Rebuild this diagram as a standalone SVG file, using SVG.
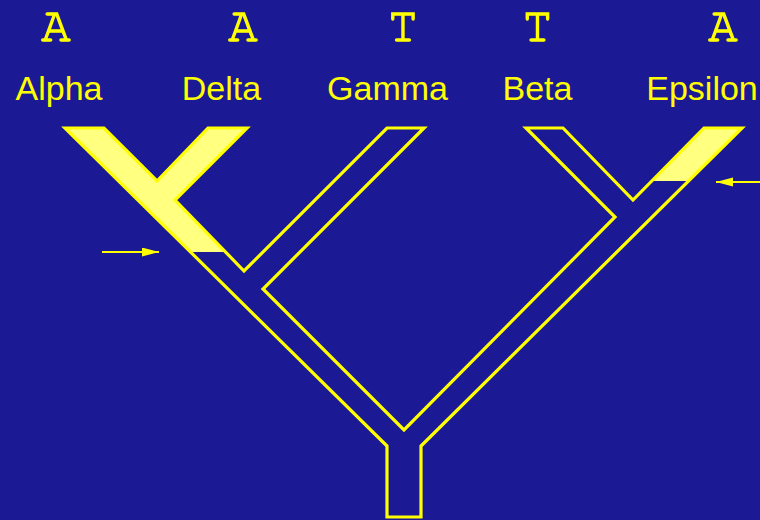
<svg xmlns="http://www.w3.org/2000/svg" width="760" height="520" viewBox="0 0 760 520">
<defs>
<style>
.bg{fill:#1b1a94}
.tree{fill:none;stroke:#ffff00;stroke-width:3.2;stroke-linejoin:miter}
.hl{fill:#ffff80;stroke:none}
.base{font-family:FreeMono,"Liberation Mono","Courier New",monospace;font-size:49px;fill:#ffff00;stroke:#ffff00;stroke-width:1.3;text-anchor:middle}
.name{font-family:"Liberation Sans",Arial,sans-serif;font-size:34px;fill:#ffff00;text-anchor:middle}
.arrow{stroke:#ffff00;stroke-width:2;fill:none}
</style>
<marker id="ah" markerUnits="userSpaceOnUse" markerWidth="18" markerHeight="10" refX="17" refY="4.5" orient="auto">
<path d="M0,0 L17,4.5 L0,9 z" fill="#ffff00"/>
</marker>
</defs>
<rect class="bg" x="0" y="0" width="760" height="520"/>
<g id="tree">
<polygon class="hl" points="65,128 104,128 157,181 208,128 247,128 175,200 227,252 190,252"/>
<polygon class="hl" points="704,128 742,128 689,181 653,181"/>
<polygon class="tree" points="65,128 104,128 157,181 208,128 247,128 175,200 244,271 387,128 424,128 263,289 404,430 615,217 526,128 563,128 633,200 704,128 742,128 421,446 421,517 387,517 387,446"/>
</g>
<g id="alpha">
<text class="base" x="56" y="40.5">A</text>
<text class="name" x="59" y="100">Alpha</text>
</g>
<g id="delta">
<text class="base" x="243" y="40.5">A</text>
<text class="name" x="221.5" y="100">Delta</text>
</g>
<g id="gamma">
<text class="base" x="403" y="40.5">T</text>
<text class="name" x="387.5" y="100">Gamma</text>
</g>
<g id="beta">
<text class="base" x="537.5" y="40.5">T</text>
<text class="name" x="537.5" y="100">Beta</text>
</g>
<g id="epsilon">
<text class="base" x="723" y="40.5">A</text>
<text class="name" x="702" y="100">Epsilon</text>
</g>
<g id="connectors">
<line class="arrow" x1="102" y1="252" x2="159" y2="252" marker-end="url(#ah)"/>
<line class="arrow" x1="762" y1="182" x2="716" y2="182" marker-end="url(#ah)"/>
</g>
</svg>
